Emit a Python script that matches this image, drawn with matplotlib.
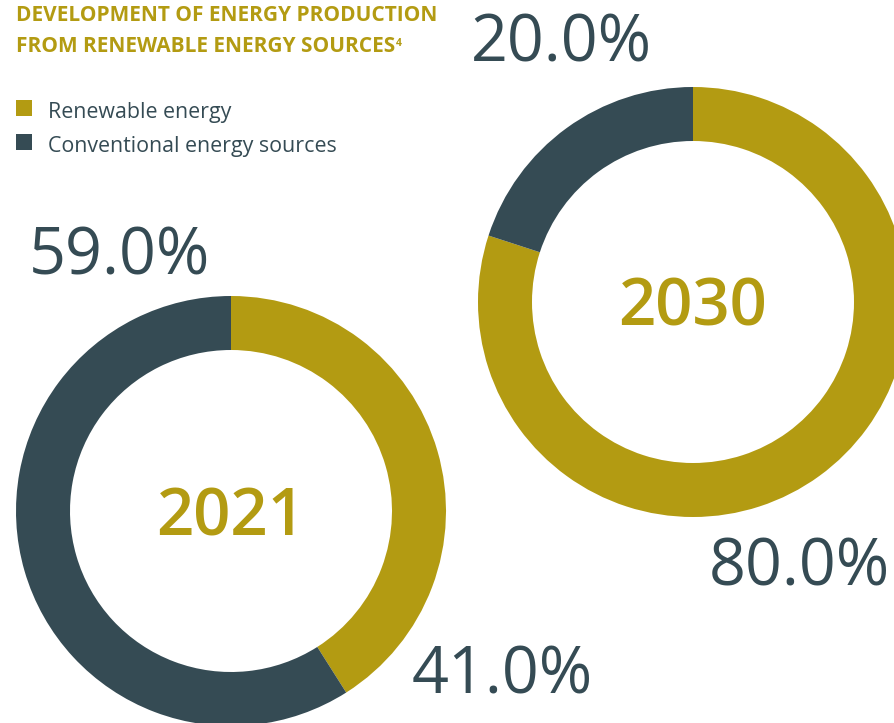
import matplotlib
matplotlib.use("Agg")
import matplotlib.pyplot as plt

# data
years = ["2021", "2030"]
series = ["Renewable energy", "Conventional energy sources"]
renewable = [41.0, 80.0]
conventional = [59.0, 20.0]

gold = "#B39B12"
dark = "#354B54"

W, H = 895, 723
plt.rcParams["font.family"] = ["Open Sans", "DejaVu Sans"]

fig = plt.figure(figsize=(W / 100, H / 100), dpi=100)
ax = fig.add_axes([0, 0, 1, 1])

# donut layout in pixel coords (y measured from top)
centers = [(231, 511), (693, 302)]
R, ring = 215, 54

for i, yr in enumerate(years):
    cx, cy = centers[i]
    ax.pie([renewable[i], conventional[i]], colors=[gold, dark],
           center=(cx, H - cy), radius=R, startangle=90, counterclock=False,
           wedgeprops=dict(width=ring, linewidth=0))
    ax.text(cx, H - cy - 24, yr, ha="center", va="baseline",
            fontsize=47, fontweight="semibold", color=gold)

# percentage labels
ax.text(29, H - 275, f"{conventional[0]:.1f}%", fontsize=46.5, color=dark, va="baseline")
ax.text(412, H - 693, f"{renewable[0]:.1f}%", fontsize=46.5, color=dark, va="baseline")
ax.text(471, H - 62, f"{conventional[1]:.1f}%", fontsize=46.5, color=dark, va="baseline")
ax.text(709, H - 585, f"{renewable[1]:.1f}%", fontsize=46.5, color=dark, va="baseline")

# title
ax.text(16, H - 21, "DEVELOPMENT OF ENERGY PRODUCTION", fontsize=15,
        fontweight="bold", color=gold, va="baseline")
t2 = ax.text(16, H - 52, "FROM RENEWABLE ENERGY SOURCES", fontsize=15,
             fontweight="bold", color=gold, va="baseline")

# legend
for j, (name, col) in enumerate(zip(series, [gold, dark])):
    y = 100 + j * 34
    ax.add_patch(plt.Rectangle((16, H - y - 16), 16, 16, color=col, lw=0))
    ax.text(48, H - y - 18, name, fontsize=15.4, color=dark, va="baseline")

ax.set_xlim(0, W)
ax.set_ylim(0, H)
ax.set_aspect("equal")
ax.axis("off")

# footnote marker after the second title line
fig.canvas.draw()
bb = t2.get_window_extent().transformed(ax.transData.inverted())
ax.text(bb.x1 + 1, H - 46, "4", fontsize=7.5, fontweight="bold", color=gold, va="baseline")

fig.savefig("out.png", dpi=100)
